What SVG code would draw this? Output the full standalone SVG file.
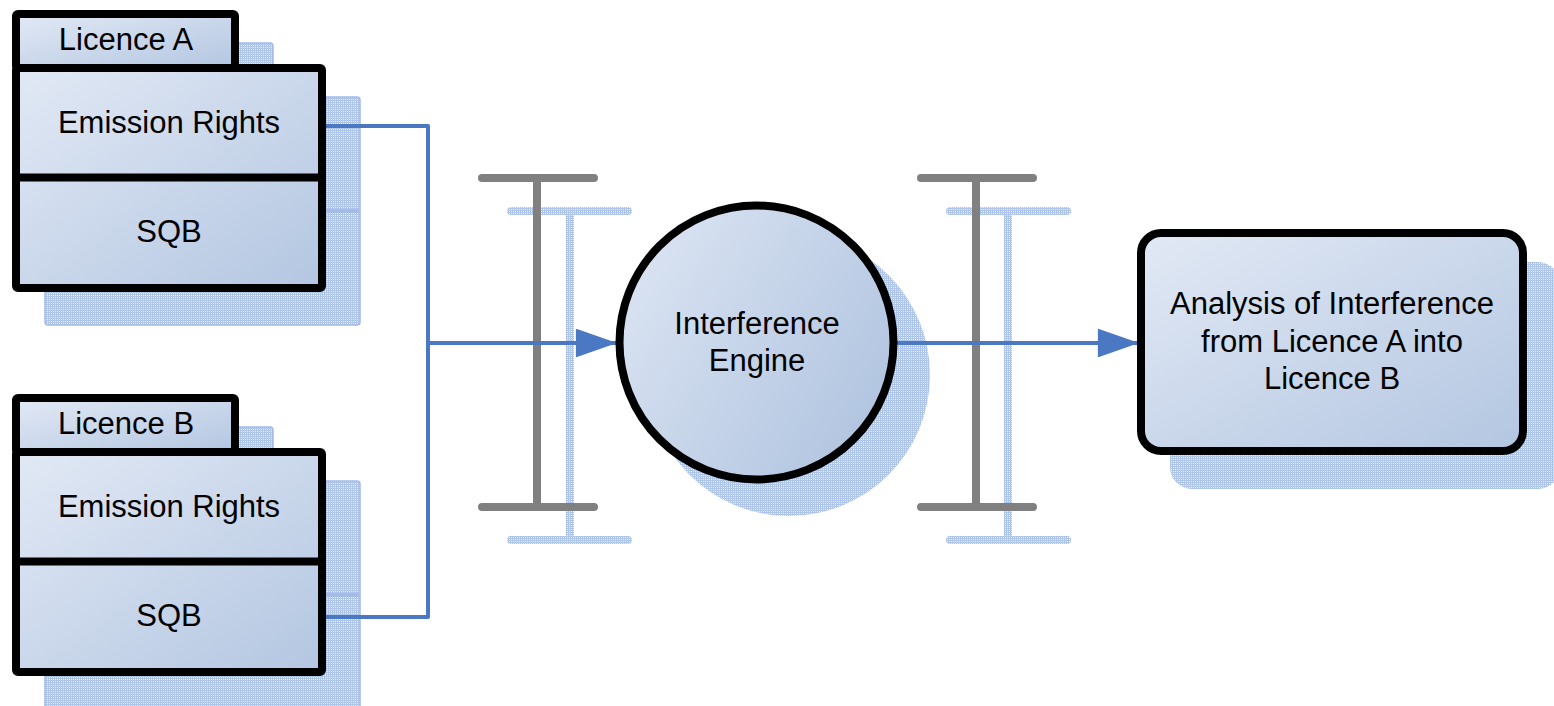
<svg xmlns="http://www.w3.org/2000/svg" width="1554" height="706" viewBox="0 0 1554 706">
  <defs>
    <linearGradient id="fillGrad" x1="0" y1="0" x2="1" y2="1">
      <stop offset="0" stop-color="#e2e9f5"/>
      <stop offset="1" stop-color="#b3c6e1"/>
    </linearGradient>
    <linearGradient id="fillGradH" x1="0" y1="0" x2="1" y2="0.6">
      <stop offset="0" stop-color="#dfe7f4"/>
      <stop offset="1" stop-color="#b3c6e1"/>
    </linearGradient>
    <pattern id="hatch" width="2" height="2" patternUnits="userSpaceOnUse">
      <rect width="2" height="2" fill="#e9f0fa"/>
      <rect width="2" height="1" fill="#adc4ec"/>
      <rect width="1" height="2" fill="#adc4ec"/>
    </pattern>
    <marker id="arrow" viewBox="0 0 10 7" refX="10" refY="3.5" markerWidth="10.5" markerHeight="7.2" markerUnits="strokeWidth" orient="auto">
      <path d="M0 0L10 3.5L0 7Z" fill="#4a78c2"/>
    </marker>
  </defs>
  <style>
    .box { fill: url(#fillGrad); stroke: #000; stroke-width: 8; stroke-linejoin: round; }
    .shadow { fill: url(#hatch); stroke: #a3bbe6; stroke-width: 1.5; }
    .shadowline { stroke: url(#hatch); stroke-width: 8; stroke-linecap: round; fill: none; }
    .divider { stroke: #000; stroke-width: 8; }
    .label { font-family: "Liberation Sans", Arial, sans-serif; font-size: 31px; fill: #000; text-anchor: middle; }
    .beam { stroke: #808080; stroke-width: 8; stroke-linecap: round; fill: none; }
    .link { stroke: #4a78c2; stroke-width: 4; fill: none; stroke-linejoin: round; }
  </style>

  <!-- Drop shadows -->
  <g id="shadows">
    <rect class="shadow" x="45" y="43" width="228" height="60" rx="3"/>
    <rect class="shadow" x="45" y="97" width="315" height="228" rx="3"/>
    <line x1="46" y1="211" x2="359" y2="211" stroke="#a3bbe6" stroke-width="4"/>
    <rect class="shadow" x="45" y="427" width="228" height="60" rx="3"/>
    <rect class="shadow" x="45" y="481" width="315" height="228" rx="3"/>
    <line x1="46" y1="595" x2="359" y2="595" stroke="#a3bbe6" stroke-width="4"/>
    <circle cx="789" cy="375" r="141" fill="url(#hatch)"/>
    <rect x="1170" y="262" width="390" height="227" rx="22" fill="url(#hatch)"/>
    <path class="shadowline" d="M511 211H628M570 211V540M511 540H628"/>
    <path class="shadowline" d="M950 211H1067M1008 211V540M950 540H1067"/>
  </g>

  <!-- Barriers -->
  <g id="barrier-left">
    <path class="beam" d="M482 178H594M537 178V507M482 507H594"/>
  </g>
  <g id="barrier-right">
    <path class="beam" d="M921 178H1033M976 178V507M921 507H1033"/>
  </g>

  <!-- Connectors -->
  <g id="connectors">
    <path class="link" d="M322 126H428V617H322"/>
    <path class="link" d="M428 343H617" marker-end="url(#arrow)"/>
    <path class="link" d="M897 343H1139" marker-end="url(#arrow)"/>
  </g>

  <!-- Licence A -->
  <g id="licence-a">
    <rect class="box" x="16" y="14" width="219" height="54" rx="2"/>
    <rect class="box" x="16" y="68" width="306" height="220" rx="2"/>
    <line class="divider" x1="16" y1="177.5" x2="322" y2="177.5"/>
    <text class="label" x="126" y="50">Licence A</text>
    <text class="label" x="169" y="133">Emission Rights</text>
    <text class="label" x="169" y="242">SQB</text>
  </g>

  <!-- Licence B -->
  <g id="licence-b">
    <rect class="box" x="16" y="398" width="219" height="54" rx="2"/>
    <rect class="box" x="16" y="452" width="306" height="220" rx="2"/>
    <line class="divider" x1="16" y1="561.5" x2="322" y2="561.5"/>
    <text class="label" x="126" y="434">Licence B</text>
    <text class="label" x="169" y="517">Emission Rights</text>
    <text class="label" x="169" y="626">SQB</text>
  </g>

  <!-- Interference engine -->
  <g id="engine">
    <circle cx="756.5" cy="342.5" r="137" fill="url(#fillGradH)" stroke="#000" stroke-width="8"/>
    <text class="label" x="757" y="334">Interference</text>
    <text class="label" x="757" y="371">Engine</text>
  </g>

  <!-- Analysis output -->
  <g id="analysis">
    <rect class="box" x="1141" y="233" width="382" height="218" rx="20"/>
    <text class="label" x="1332" y="314">Analysis of Interference</text>
    <text class="label" x="1332" y="352">from Licence A into</text>
    <text class="label" x="1332" y="389">Licence B</text>
  </g>
</svg>
